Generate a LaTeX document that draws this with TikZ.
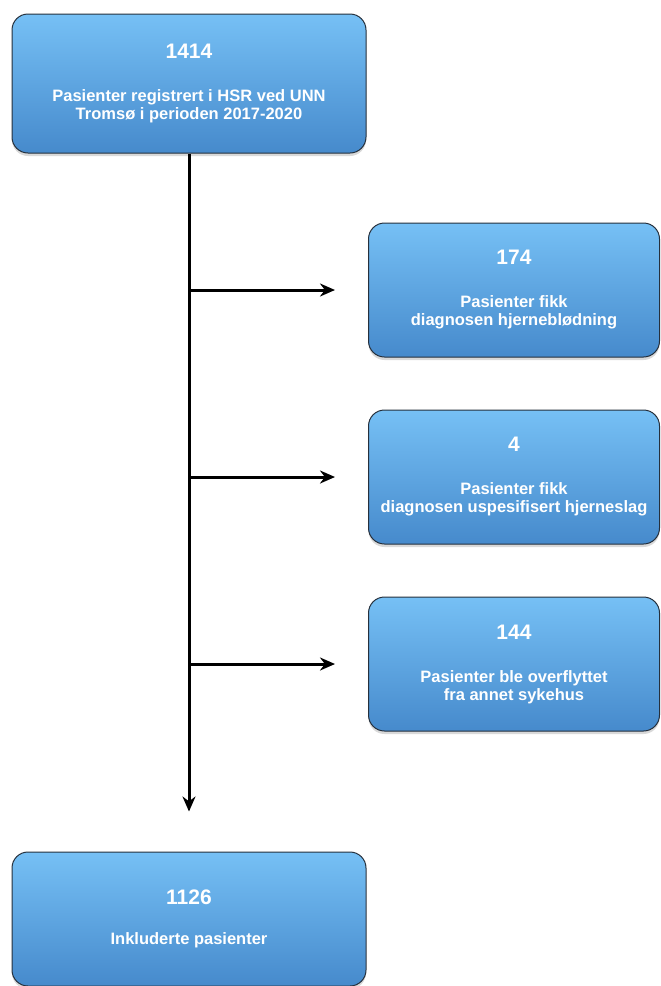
\documentclass[tikz,border=0pt]{standalone}
\usepackage{fontspec}
\setmainfont{Liberation Sans}
\usetikzlibrary{arrows.meta, positioning, shadows}
\definecolor{boxtop}{RGB}{118,192,245}
\definecolor{boxbot}{RGB}{70,138,204}
\definecolor{boxline}{RGB}{38,48,60}
\newcommand{\boxnum}[1]{{\fontsize{21}{24}\selectfont #1}}

\begin{document}
\begin{tikzpicture}[
  x=1pt, y=-1pt,
  box/.style={draw=boxline, line width=1pt, rounded corners=16pt, top color=boxtop, bottom color=boxbot,
    text=white, font=\fontsize{16.5}{18}\selectfont\bfseries, align=center, inner sep=0pt,
    drop shadow={opacity=0.3, shadow xshift=0pt, shadow yshift=-3pt}},
  mainbox/.style={box, minimum width=354pt, minimum height=139pt},
  sidebox/.style={box, minimum width=291pt, minimum height=134pt},
  flow/.style={line width=3pt, -{Stealth[length=15pt, width=13pt]}},
]
\useasboundingbox (0,0) rectangle (661,986);
\node[mainbox] (start) at (189,83.5) {\boxnum{1414}\\[25pt]Pasienter registrert i HSR ved UNN\\Tromsø i perioden 2017-2020};
\node[sidebox] (bleed) at (514,290) {\boxnum{174}\\[25pt]Pasienter fikk\\diagnosen hjerneblødning};
\node[sidebox] (stroke) at (514,477) {\boxnum{4}\\[25pt]Pasienter fikk\\diagnosen uspesifisert hjerneslag};
\node[sidebox] (moved) at (514,664) {\boxnum{144}\\[25pt]Pasienter ble overflyttet\\fra annet sykehus};
\node[mainbox, minimum height=134pt] (incl) at (189,919) {\boxnum{1126}\\[22pt]Inkluderte pasienter};
% junctions on the main line
\coordinate (j1) at (start.south |- bleed.west);
\coordinate (j2) at (start.south |- stroke.west);
\coordinate (j3) at (start.south |- moved.west);
\coordinate (stop) at ([yshift=40pt]incl.north);
\draw[flow] (start.south) -- (stop);
\draw[flow] (j1) -- ([xshift=-33pt]bleed.west);
\draw[flow] (j2) -- ([xshift=-33pt]stroke.west);
\draw[flow] (j3) -- ([xshift=-33pt]moved.west);
\end{tikzpicture}
\end{document}
